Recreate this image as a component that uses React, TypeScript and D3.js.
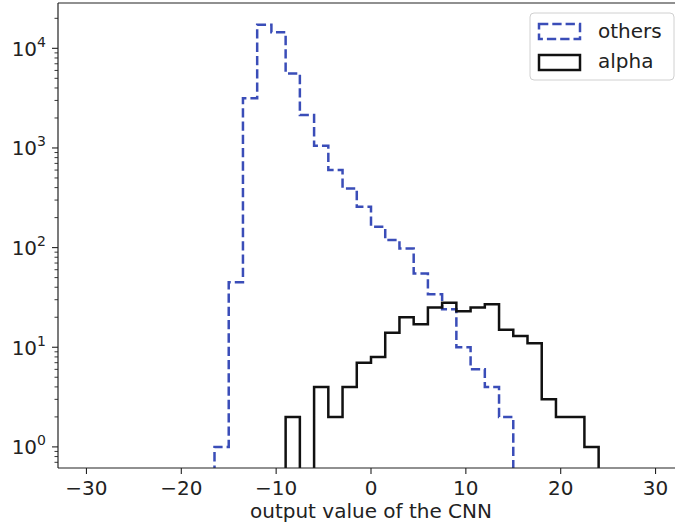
import React from "react";
import * as d3 from "d3";

const binWidth = 1.5;
const othersStart = -16.5;
const othersCounts = [1, 45, 3150, 17200, 14500, 5600, 2140, 1050, 600, 393, 257, 162, 119, 98, 55, 34, 24, 10, 6, 4, 2];
const alphaStart = -9;
const alphaCounts = [2, 0, 4, 2, 4, 7, 8, 14, 20, 17, 25, 28, 23, 25, 27, 15, 13, 11, 3, 2, 2, 1];
const xTicks = [-30, -20, -10, 0, 10, 20, 30];
const yTicks = [0, 1, 2, 3, 4];
const seriesNames = ["others", "alpha"];
const xLabel = "output value of the CNN";

const W = 675;
const H = 526;
const left = 58;
const right = 684;
const top = 3;
const bottom = 468;
const FS = 20;

export default function App() {
  const x = d3.scaleLinear().domain([-33, 33]).range([left, right]);
  const y = d3.scaleLog().domain([0.614, 28500]).range([bottom, top]);
  const yv = (v: number) => (v > 0 ? y(v) : bottom + 20);

  const stepPath = (start: number, counts: number[]) => {
    const pts: [number, number][] = [];
    pts.push([x(start), bottom + 20]);
    counts.forEach((c, i) => {
      const l = start + i * binWidth;
      const r = l + binWidth;
      pts.push([x(l), yv(c)]);
      pts.push([x(r), yv(c)]);
    });
    pts.push([x(start + counts.length * binWidth), bottom + 20]);
    return d3.line()(pts) || "";
  };

  const minor: number[] = [];
  for (let k = -1; k <= 4; k++) {
    for (let m = 2; m <= 9; m++) {
      const v = m * Math.pow(10, k);
      if (v >= 0.614 && v <= 28500) minor.push(v);
    }
  }

  const blue = "#3a4db8";
  const fmt = (v: number) => (v < 0 ? "\u2212" + Math.abs(v) : String(v));

  return (
    <>
      <style>{`body{margin:0}`}</style>
      <svg width={W} height={H} style={{ display: "block", fontFamily: "DejaVu Sans" }}>
        <defs>
          <clipPath id="plot">
            <rect x={left} y={top} width={right - left} height={bottom - top} />
          </clipPath>
        </defs>
        <rect x={0} y={0} width={W} height={H} fill="#fff" />
        <g clipPath="url(#plot)" fill="none">
          <path d={stepPath(othersStart, othersCounts)} stroke={blue} strokeWidth={2.5} strokeDasharray="9.3,4" />
          <path d={stepPath(alphaStart, alphaCounts)} stroke="#111" strokeWidth={2.5} />
        </g>
        {/* spines */}
        <line x1={left} x2={left} y1={top} y2={bottom} stroke="#222" strokeWidth={1.2} />
        <line x1={left} x2={right} y1={bottom} y2={bottom} stroke="#222" strokeWidth={1.2} />
        <line x1={left} x2={right} y1={top} y2={top} stroke="#222" strokeWidth={1.2} />
        <line x1={right} x2={right} y1={top} y2={bottom} stroke="#222" strokeWidth={1.2} />
        {/* x ticks */}
        {xTicks.map((t) => (
          <g key={"xt" + t}>
            <line x1={x(t)} x2={x(t)} y1={bottom} y2={bottom + 6} stroke="#222" strokeWidth={1.1} />
            <text x={x(t)} y={495} fontSize={FS} textAnchor="middle" fill="#222">
              {fmt(t)}
            </text>
          </g>
        ))}
        {/* y ticks */}
        {yTicks.map((k) => (
          <g key={"yt" + k}>
            <line x1={left - 6} x2={left} y1={y(Math.pow(10, k))} y2={y(Math.pow(10, k))} stroke="#222" strokeWidth={1.1} />
            <text x={46} y={y(Math.pow(10, k)) + 7.5} fontSize={FS} textAnchor="end" fill="#222">
              10
              <tspan fontSize={14} dy={-9}>
                {k}
              </tspan>
            </text>
          </g>
        ))}
        {minor.map((v, i) => (
          <line key={"mn" + i} x1={left - 3.5} x2={left} y1={y(v)} y2={y(v)} stroke="#222" strokeWidth={0.9} />
        ))}
        <text x={(left + right) / 2} y={518} fontSize={FS} textAnchor="middle" fill="#222">
          {xLabel}
        </text>
        {/* legend */}
        <g>
          <rect x={530} y={13} width={144} height={67} rx={4} fill="#fff" fillOpacity={0.8} stroke="#d0d0d0" strokeWidth={1} />
          <rect x={539} y={24} width={41} height={15} fill="none" stroke={blue} strokeWidth={2.5} strokeDasharray="9.3,4" />
          <text x={598} y={38} fontSize={FS} fill="#222">
            {seriesNames[0]}
          </text>
          <rect x={539} y={55} width={41} height={15} fill="none" stroke="#111" strokeWidth={2.5} />
          <text x={598} y={68} fontSize={FS} fill="#222">
            {seriesNames[1]}
          </text>
        </g>
      </svg>
    </>
  );
}
